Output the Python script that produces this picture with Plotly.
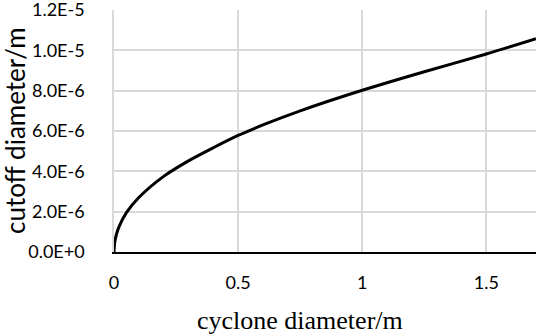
import plotly.graph_objects as go

cyclone_d = [0, 0.003, 0.01, 0.02, 0.05, 0.1, 0.2, 0.3, 0.4, 0.5, 0.6, 0.75, 1.0, 1.25, 1.5, 1.7]
cutoff_d = [0, 0.48e-6, 0.88e-6, 1.25e-6, 1.95e-6, 2.7e-6, 3.75e-6, 4.52e-6, 5.17e-6,
            5.78e-6, 6.3e-6, 7.0e-6, 8.02e-6, 8.94e-6, 9.82e-6, 10.58e-6]

x_ticks = [0, 0.5, 1, 1.5]
x_ticktext = ["0", "0.5", "1", "1.5"]
y_ticks = [0, 2e-6, 4e-6, 6e-6, 8e-6, 1e-5, 1.2e-5]
y_ticktext = ["0.0E+0", "2.0E-6", "4.0E-6", "6.0E-6", "8.0E-6", "1.0E-5", "1.2E-5"]

L, R, T, B = 114, 1, 10, 82
W, H = 537, 334
PW, PH = W - L - R, H - T - B

fig = go.Figure()
fig.add_trace(go.Scatter(x=cyclone_d, y=cutoff_d, mode="lines",
                         line=dict(color="black", width=3, shape="spline", smoothing=0.8),
                         showlegend=False, cliponaxis=False, hoverinfo="skip"))

tick_font = dict(family="Lato, Carlito, Calibri, sans-serif", size=18, color="black")
fig.update_layout(
    width=W, height=H,
    margin=dict(l=L, r=R, t=T, b=B),
    paper_bgcolor="white", plot_bgcolor="white",
    xaxis=dict(range=[0, 1.7], tickvals=x_ticks, ticktext=x_ticktext, tickfont=tick_font,
               showgrid=True, gridcolor="#d9d9d9", gridwidth=1.5, automargin=False,
               showline=True, linecolor="black", linewidth=2,
               ticks="", ticklabelstandoff=13, zeroline=False, ticklabeloverflow="allow"),
    yaxis=dict(range=[0, 1.2e-5], tickvals=y_ticks, ticktext=y_ticktext, tickfont=tick_font,
               showgrid=True, gridcolor="#d9d9d9", gridwidth=1.5, automargin=False,
               showline=True, linecolor="#d9d9d9", linewidth=1.5,
               ticks="", ticklabelstandoff=24, zeroline=False, ticklabeloverflow="allow"),
    annotations=[
        dict(text="cutoff diameter/m", textangle=-90,
             x=(15 - L) / PW, y=0.5,
             xref="paper", yref="paper", xanchor="center", yanchor="middle",
             showarrow=False,
             font=dict(family="Lato, Carlito, Calibri, sans-serif", size=26, color="black")),
        dict(text="cyclone diameter/m",
             x=(300 - L) / PW, y=-(320 - (H - B)) / PH,
             xref="paper", yref="paper", xanchor="center", yanchor="middle",
             showarrow=False,
             font=dict(family="Liberation Serif, Times New Roman, serif", size=26, color="black")),
    ],
)

fig.write_html("out.html", config={"displayModeBar": False},
               post_script="document.body.style.margin='0';document.body.style.overflow='hidden';")
